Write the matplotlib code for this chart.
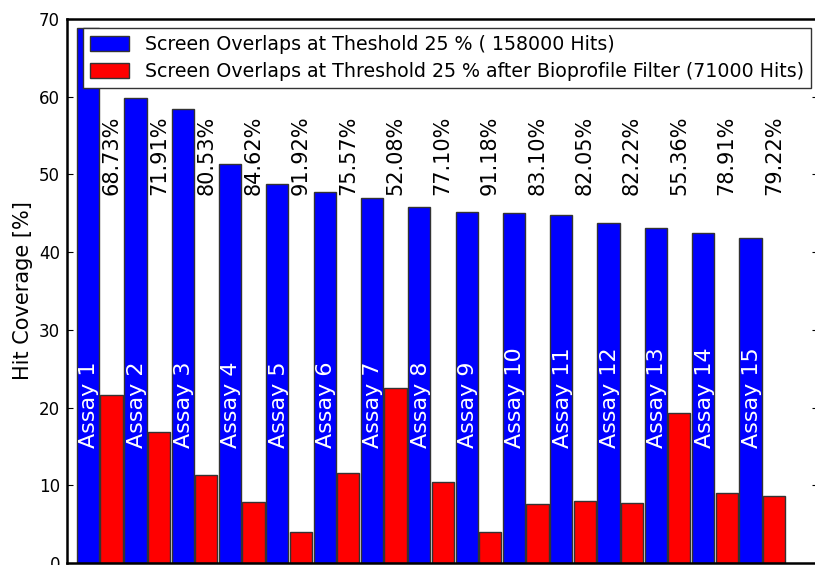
import matplotlib
matplotlib.use("Agg")
import matplotlib.pyplot as plt
import numpy as np

assays = ["Assay %d" % i for i in range(1, 16)]
coverage_all = [68.8, 59.8, 58.4, 51.3, 48.8, 47.7, 47.0, 45.8, 45.2, 45.1,
                44.8, 43.8, 43.1, 42.4, 41.8]
coverage_filtered = [21.6, 16.8, 11.3, 7.8, 3.95, 11.6, 22.5, 10.4, 4.0, 7.6,
                     8.0, 7.7, 19.3, 9.0, 8.6]
percent_labels = ["68.73%", "71.91%", "80.53%", "84.62%", "91.92%", "75.57%",
                  "52.08%", "77.10%", "91.18%", "83.10%", "82.05%", "82.22%",
                  "55.36%", "78.91%", "79.22%"]

legend_all = "Screen Overlaps at Theshold 25 % ( 158000 Hits)"
legend_filtered = "Screen Overlaps at Threshold 25 % after Bioprofile Filter (71000 Hits)"

fig = plt.figure(figsize=(8.15, 5.65), dpi=100)
ax = fig.add_axes([67 / 815, 2 / 565, 751 / 815, 544 / 565])

x = np.arange(len(assays))
w = 0.47
ax.bar(x, coverage_all, width=w, align="edge", color="#0000ff",
       edgecolor="#333333", linewidth=1.0, label=legend_all)
ax.bar(x + 0.495, coverage_filtered, width=w, align="edge", color="#ff0000",
       edgecolor="#333333", linewidth=1.0, label=legend_filtered)

for i in range(len(assays)):
    ax.text(x[i] + w / 2 + 0.03, 14.8, assays[i], rotation=90, color="white",
            ha="center", va="bottom", fontsize=16)
    ax.text(x[i] + 0.495 + w / 2, 47.3, percent_labels[i], rotation=90,
            ha="center", va="bottom", fontsize=15)

ax.set_xlim(-0.21, 15.66)
ax.set_ylim(0, 70)
ax.set_yticks(range(0, 71, 10))
ax.set_xticks([])
ax.tick_params(axis="y", direction="in", length=4, labelsize=12,
               right=True, pad=5)
ax.set_ylabel("Hit Coverage [%]", fontsize=15, labelpad=4)
for s in ax.spines.values():
    s.set_linewidth(1.8)

ax.legend(loc="upper left", bbox_to_anchor=(0.021, 0.983), borderaxespad=0,
          fontsize=13.7, fancybox=False, edgecolor="#333333", framealpha=1,
          handlelength=2.05, handleheight=0.8, borderpad=0.37,
          labelspacing=0.4, handletextpad=0.84)

fig.savefig("out.png", dpi=100)
